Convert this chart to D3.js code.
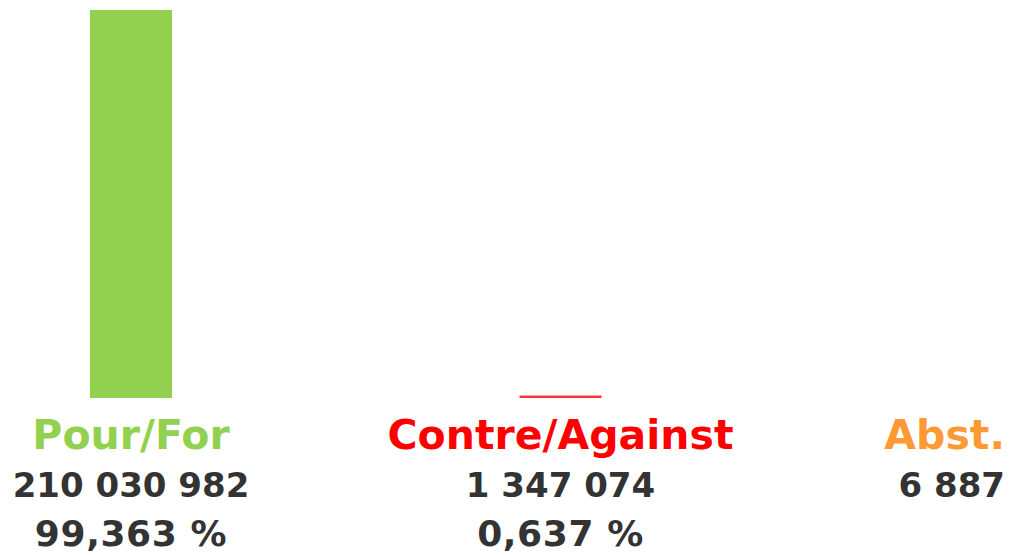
<!DOCTYPE html>
<html>
<head>
<meta charset="utf-8">
<script src="https://cdn.jsdelivr.net/npm/d3@7"></script>
<style>
  html, body { margin: 0; padding: 0; background: #fff; }
  svg { display: block; }
  text { font-family: "DejaVu Sans", Verdana, sans-serif; font-weight: bold; }
</style>
</head>
<body>
<script>
// Vote results
const categories = ["Pour/For", "Contre/Against", "Abst."];
const votes = [210030982, 1347074, 6887];
const percents = ["99,363 %", "0,637 %", ""];
const colors = ["#92d050", "#ff0000", "#ff9933"];

const W = 1009, H = 556;
const svg = d3.select("body").append("svg").attr("width", W).attr("height", H);

const x = d3.scalePoint().domain(categories).range([131, 990]);
const y = d3.scaleLinear().domain([0, d3.max(votes)]).range([398, 10]);
const barW = 82;

const fmt = v => d3.format(",")(v).replace(/,/g, " ");

svg.selectAll("rect.bar")
  .data(categories)
  .join("rect")
  .attr("class", "bar")
  .attr("x", d => x(d) - barW / 2)
  .attr("y", (d, i) => y(votes[i]))
  .attr("width", barW)
  .attr("height", (d, i) => y(0) - y(votes[i]))
  .attr("fill", (d, i) => colors[i])
  .attr("fill-opacity", (d, i) => i === 0 ? 1 : 0.8);

// Label stack under each bar; keep text inside the right edge
function place(sel, rightPad) {
  sel.each(function(d) {
    const w = this.getComputedTextLength();
    const cx = Math.min(x(d), W - rightPad - w / 2);
    d3.select(this).attr("x", cx);
  });
}

const rows = [
  { y: 449, size: 41, ls: 0, text: (d, i) => d, fill: (d, i) => colors[i] },
  { y: 497, size: 34, ls: 0, text: (d, i) => fmt(votes[i]), fill: () => "#333333" },
  { y: 546, size: 36, ls: 0.6, text: (d, i) => percents[i], fill: () => "#333333" }
];

rows.forEach(r => {
  svg.append("g").selectAll("text")
    .data(categories)
    .join("text")
    .attr("y", r.y)
    .attr("text-anchor", "middle")
    .attr("font-size", r.size)
    .attr("letter-spacing", r.ls)
    .attr("fill", r.fill)
    .text(r.text)
    .call(place, 4);
});
</script>
</body>
</html>
